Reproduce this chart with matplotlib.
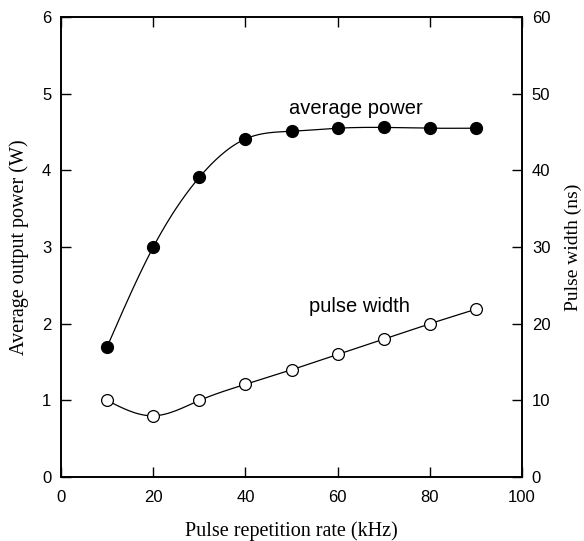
import numpy as np
import matplotlib.pyplot as plt

# data
rate = [10, 20, 30, 40, 50, 60, 70, 80, 90]
power = [1.70, 3.00, 3.91, 4.41, 4.51, 4.55, 4.56, 4.55, 4.55]
width = [10.0, 8.0, 10.0, 12.1, 14.0, 16.0, 18.0, 20.0, 21.9]


def spline(x, y, n=300):
    # natural cubic spline, only for drawing the smooth line
    x = np.asarray(x, float)
    y = np.asarray(y, float)
    m = len(x)
    h = np.diff(x)
    A = np.zeros((m, m))
    b = np.zeros(m)
    A[0, 0] = A[-1, -1] = 1
    for i in range(1, m - 1):
        A[i, i - 1] = h[i - 1]
        A[i, i] = 2 * (h[i - 1] + h[i])
        A[i, i + 1] = h[i]
        b[i] = 3 * ((y[i + 1] - y[i]) / h[i] - (y[i] - y[i - 1]) / h[i - 1])
    c = np.linalg.solve(A, b)
    xs = np.linspace(x[0], x[-1], n)
    idx = np.clip(np.searchsorted(x, xs) - 1, 0, m - 2)
    dx = xs - x[idx]
    hi = h[idx]
    bb = (y[idx + 1] - y[idx]) / hi - hi * (2 * c[idx] + c[idx + 1]) / 3
    dd = (c[idx + 1] - c[idx]) / (3 * hi)
    ys = y[idx] + bb * dx + c[idx] * dx ** 2 + dd * dx ** 3
    return xs, ys


fig = plt.figure(figsize=(5.84, 5.41), dpi=100)
ax = fig.add_axes([0.1045, 0.118, 0.7895, 0.8506])
ax2 = ax.twinx()

sx, sy = spline(rate, power)
ax.plot(sx, sy, color='black', lw=0.9)
ax.plot(rate, power, 'o', color='black', markersize=8.5)

wx, wy = spline(rate, width)
ax2.plot(wx, wy, color='black', lw=0.9)
ax2.plot(rate, width, 'o', markerfacecolor='white', markeredgecolor='black',
         markersize=8.5, markeredgewidth=0.9)

ax.set_xlim(0, 100)
ax.set_ylim(0, 6)
ax2.set_ylim(0, 60)
ax.set_xticks(range(0, 101, 20))
ax.set_yticks(range(0, 7))
ax2.set_yticks(range(0, 61, 10))

for a in (ax, ax2):
    for s in a.spines.values():
        s.set_linewidth(1.2)
    a.tick_params(direction='in', length=7, width=1, pad=7)
    for lab in a.get_xticklabels() + a.get_yticklabels():
        lab.set_fontfamily('Liberation Sans')
        lab.set_fontsize(12)
ax.tick_params(axis='x', top=True, pad=9)

labfont = {'family': 'Liberation Serif', 'size': 14.5}
ax.set_xlabel('Pulse repetition rate (kHz)', fontdict=labfont, labelpad=12)
ax.set_ylabel('Average output power (W)', fontdict=labfont, labelpad=9)
ax2.set_ylabel('Pulse width (ns)', family='Liberation Serif', size=14,
               labelpad=10)

notefont = {'family': 'Liberation Sans', 'size': 14.5}
ax.text(49.5, 4.81, 'average power', fontdict=notefont, va='center')
ax2.text(53.8, 22.2, 'pulse width', fontdict=notefont, va='center')

fig.savefig('out.png', dpi=100)
